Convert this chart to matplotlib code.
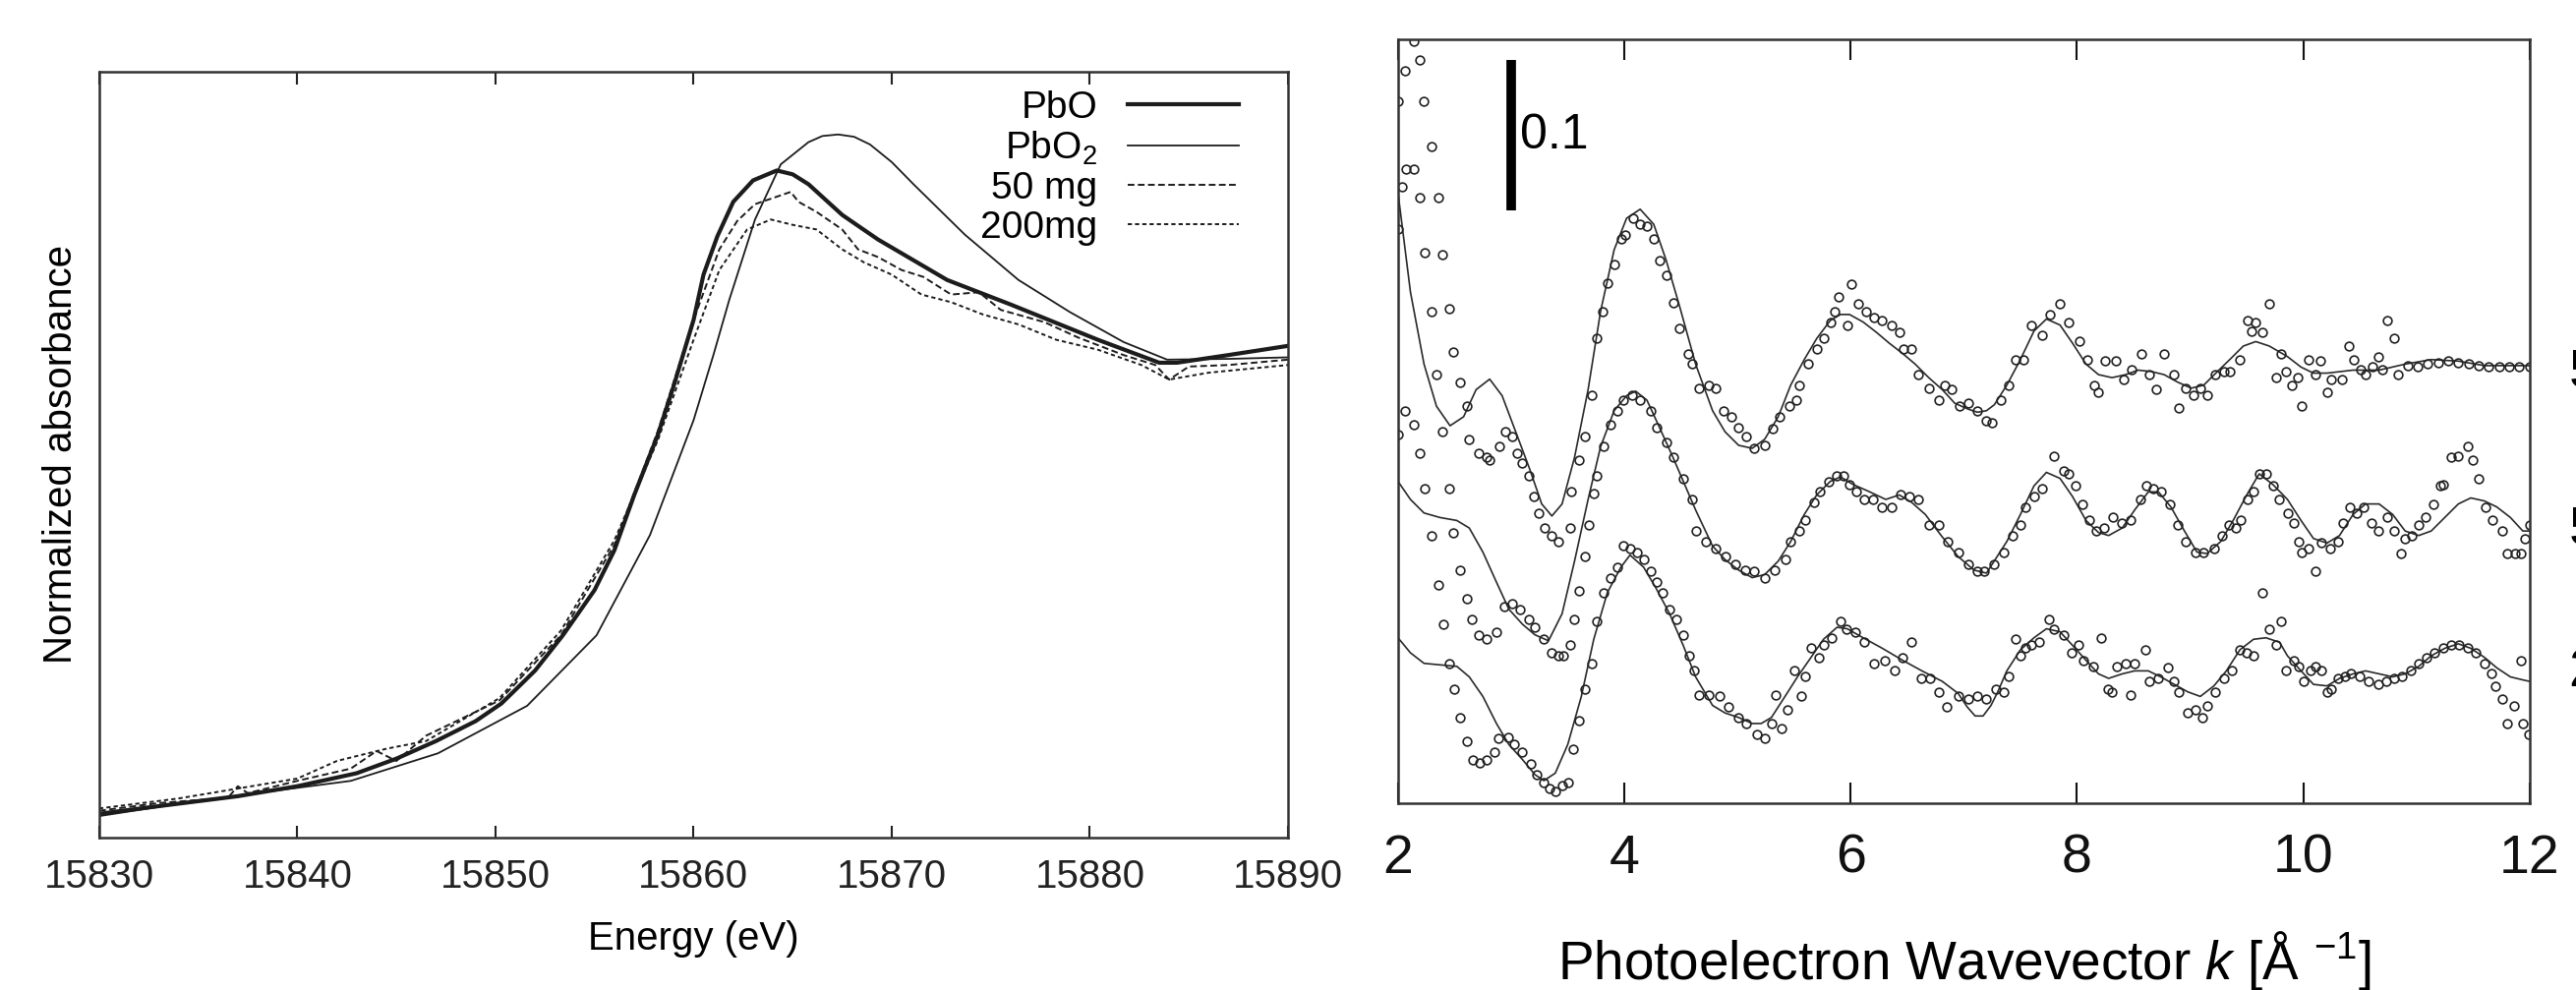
import numpy as np
import matplotlib.pyplot as plt
from matplotlib import font_manager

plt.rcParams['font.family'] = ['Liberation Sans', 'DejaVu Sans']
plt.rcParams['mathtext.fontset'] = 'custom'
plt.rcParams['mathtext.rm'] = 'Liberation Sans'
plt.rcParams['mathtext.it'] = 'Liberation Sans:italic'

names = {f.name for f in font_manager.fontManager.ttflist}
narrow = 'Liberation Sans Narrow' if 'Liberation Sans Narrow' in names else 'Liberation Sans'

# ---- left panel: XANES (energy eV, normalized absorbance) ----
pbo = [(15830, .031), (15833, .041), (15837, .054), (15840, .067), (15843, .084), (15845, .103),
       (15847, .126), (15849, .152), (15850.3, .175), (15852, .218), (15853.4, .264), (15855, .323),
       (15856, .375), (15857, .447), (15858.2, .526), (15859, .590), (15860, .676), (15860.5, .735),
       (15861.2, .785), (15862, .830), (15863, .858), (15864.2, .871), (15865, .866),
       (15865.8, .853), (15867.5, .813), (15869.3, .781), (15872.8, .728), (15876, .696),
       (15880.4, .650), (15883.5, .620), (15884.4, .620), (15887, .630), (15890, .642)]
pbo2 = [(15830, .028), (15835, .048), (15842.7, .074), (15847.1, .110), (15851.6, .172),
        (15855.1, .264), (15857.8, .395), (15860, .545), (15861, .630), (15861.8, .702),
        (15863.1, .807), (15864.4, .879), (15865.8, .908), (15866.5, .916), (15867.3, .918),
        (15868.1, .915), (15868.9, .905), (15870, .882), (15871.1, .853), (15873.7, .787),
        (15876.4, .728), (15879, .686), (15881.7, .647), (15883.9, .624), (15887, .625),
        (15890, .627)]
mg50 = [(15830, .035), (15833, .045), (15836.5, .052), (15837, .067), (15837.5, .058), (15840, .074),
        (15842.7, .090), (15844, .113), (15845, .100), (15846.5, .133), (15850.2, .179),
        (15853.3, .264), (15856, .382), (15858.2, .531), (15860, .676), (15861.3, .768),
        (15862.2, .805), (15863.1, .827), (15864.9, .843), (15865.3, .830), (15866.2, .817),
        (15867.5, .794), (15868.3, .768), (15869.3, .758), (15870.5, .741), (15871.6, .732),
        (15873, .709), (15874.4, .712), (15875.5, .689), (15877.7, .673), (15879.4, .653),
        (15881.7, .630), (15883.3, .617), (15884, .598), (15885, .615), (15887, .617), (15890, .624)]
mg200 = [(15830, .038), (15834, .051), (15837, .064), (15840, .077), (15842, .100), (15844.5, .116),
         (15846.5, .126), (15850.2, .182), (15853.3, .270), (15856, .388), (15858.2, .519),
         (15860, .650), (15861.3, .741), (15862.7, .794), (15863.9, .807), (15865, .800),
         (15866.2, .794), (15867.5, .768), (15868.6, .751), (15870, .735), (15871.5, .709),
         (15873, .699), (15874.6, .683), (15876.4, .670), (15878.3, .650), (15880.4, .637),
         (15882.6, .617), (15884, .598), (15886, .607), (15890, .617)]
xanes_labels = ['PbO', 'PbO$_2$', '50 mg', '200mg']
energy_ticks = [15830, 15840, 15850, 15860, 15870, 15880, 15890]

# ---- right panel: EXAFS (k, shifted chi) ----
top_fit = [(2.00, .406), (2.11, .340), (2.23, .292), (2.34, .264), (2.46, .251), (2.58, .257),
           (2.69, .275), (2.81, .282), (2.92, .271), (3.04, .247), (3.16, .223), (3.27, .199),
           (3.36, .191), (3.45, .199), (3.56, .230), (3.68, .275), (3.79, .327), (3.91, .368),
           (4.02, .389), (4.14, .395), (4.26, .385), (4.37, .361), (4.49, .330), (4.63, .292),
           (4.78, .261), (4.89, .247), (5.01, .238), (5.13, .236), (5.24, .242), (5.36, .257),
           (5.47, .278), (5.59, .295), (5.70, .309), (5.82, .321), (5.91, .325), (5.99, .325),
           (6.11, .320), (6.23, .313), (6.34, .306), (6.46, .299), (6.57, .292), (6.69, .283),
           (6.81, .275), (6.92, .266), (7.04, .262), (7.12, .260), (7.20, .261), (7.27, .265),
           (7.38, .278), (7.50, .295), (7.62, .314), (7.73, .322), (7.85, .318), (7.96, .306),
           (8.08, .292), (8.19, .285), (8.31, .283), (8.43, .285), (8.54, .288), (8.66, .287),
           (8.77, .285), (8.89, .280), (9.01, .276), (9.12, .278), (9.24, .287), (9.35, .295),
           (9.47, .304), (9.58, .307), (9.70, .304), (9.86, .297), (9.98, .290), (10.09, .286),
           (10.21, .286), (10.44, .288), (10.67, .288), (10.90, .292), (11.13, .295), (11.37, .294),
           (11.60, .291), (11.83, .291), (12.00, .291)]
top_pts = [(2.14, .507), (2.06, .487), (2.19, .494), (2.00, .467), (2.23, .467), (2.30, .437),
           (2.07, .422), (2.14, .422), (2.04, .410), (2.19, .403), (2.36, .403), (2.00, .382),
           (2.24, .366), (2.39, .365), (2.30, .327), (2.45, .329), (2.49, .300), (2.34, .285),
           (2.55, .280), (2.61, .264), (2.39, .247), (2.63, .242), (2.71, .233), (2.78, .230),
           (2.81, .228), (2.90, .237), (2.95, .247), (3.01, .244), (3.05, .233), (3.10, .226),
           (3.16, .218), (3.20, .204), (3.24, .193), (3.30, .183), (3.36, .178), (3.42, .174),
           (3.52, .183), (3.53, .207), (3.60, .228), (3.65, .244), (3.71, .271), (3.76, .309),
           (3.81, .327), (3.85, .346), (3.91, .358), (3.97, .375), (4.01, .378), (4.08, .389),
           (4.14, .385), (4.20, .384), (4.26, .375), (4.31, .361), (4.37, .351), (4.43, .333),
           (4.49, .316), (4.56, .299), (4.60, .292), (4.66, .276), (4.75, .278), (4.81, .276),
           (4.88, .261), (4.95, .257), (5.01, .250), (5.08, .244), (5.15, .236), (5.24, .238),
           (5.31, .249), (5.37, .257), (5.46, .264), (5.52, .268), (5.55, .278), (5.62, .292),
           (5.70, .302), (5.76, .309), (5.82, .320), (5.86, .327), (5.89, .337), (5.97, .318),
           (6.01, .345), (6.07, .332), (6.14, .327), (6.21, .323), (6.28, .321), (6.36, .318),
           (6.43, .313), (6.47, .302), (6.54, .302), (6.60, .285), (6.69, .276), (6.78, .268),
           (6.83, .278), (6.89, .275), (6.96, .264), (7.04, .266), (7.12, .261), (7.20, .254),
           (7.25, .253), (7.33, .268), (7.40, .278), (7.46, .295), (7.53, .295), (7.60, .318),
           (7.69, .311), (7.76, .325), (7.85, .332), (7.93, .320), (8.02, .307), (8.09, .295),
           (8.15, .278), (8.19, .273), (8.25, .294), (8.34, .294), (8.41, .282), (8.48, .288),
           (8.57, .299), (8.64, .285), (8.70, .275), (8.77, .299), (8.86, .285), (8.90, .263),
           (8.96, .276), (9.03, .271), (9.09, .276), (9.15, .271), (9.22, .285), (9.30, .287),
           (9.35, .287), (9.44, .295), (9.51, .321), (9.54, .314), (9.58, .320), (9.64, .313),
           (9.70, .332), (9.76, .283), (9.80, .299), (9.85, .287), (9.90, .278), (9.95, .283),
           (9.99, .264), (10.05, .295), (10.11, .285), (10.15, .294), (10.21, .273), (10.25, .282),
           (10.34, .282), (10.40, .304), (10.45, .295), (10.51, .288), (10.55, .285), (10.61, .290),
           (10.66, .297), (10.70, .288), (10.74, .321), (10.80, .309), (10.84, .285), (10.92, .291),
           (11.01, .290), (11.10, .292), (11.19, .293), (11.28, .294), (11.37, .293), (11.46, .292),
           (11.55, .291), (11.64, .290), (11.73, .290), (11.82, .290), (11.91, .290), (12.00, .290)]

mid_fit = [(2.00, .214), (2.11, .202), (2.23, .193), (2.37, .190), (2.52, .188), (2.63, .183),
           (2.75, .167), (2.87, .147), (2.98, .129), (3.10, .119), (3.21, .112), (3.33, .108),
           (3.45, .126), (3.56, .161), (3.68, .202), (3.79, .237), (3.91, .261), (4.02, .271),
           (4.10, .274), (4.20, .268), (4.31, .250), (4.43, .230), (4.55, .209), (4.63, .195),
           (4.78, .171), (4.89, .162), (5.01, .155), (5.13, .150), (5.24, .152), (5.36, .161),
           (5.47, .174), (5.59, .192), (5.70, .205), (5.82, .214), (5.91, .217), (6.02, .212),
           (6.17, .207), (6.31, .202), (6.43, .205), (6.54, .200), (6.66, .192), (6.80, .178),
           (6.95, .164), (7.09, .155), (7.20, .153), (7.38, .174), (7.50, .192), (7.62, .211),
           (7.73, .220), (7.85, .216), (7.96, .204), (8.08, .188), (8.19, .180), (8.28, .178),
           (8.40, .183), (8.51, .195), (8.63, .207), (8.72, .207), (8.83, .197), (8.95, .181),
           (9.06, .167), (9.15, .166), (9.27, .174), (9.38, .188), (9.50, .205), (9.61, .219),
           (9.73, .212), (9.86, .202), (9.98, .188), (10.09, .176), (10.21, .173), (10.32, .178),
           (10.44, .192), (10.55, .199), (10.67, .199), (10.79, .192), (10.90, .181), (11.02, .178),
           (11.13, .181), (11.25, .190), (11.37, .199), (11.48, .203), (11.60, .201), (11.71, .197),
           (11.83, .190), (11.94, .181), (12.00, .181)]
mid_pts = [(2.00, .245), (2.06, .261), (2.14, .252), (2.19, .233), (2.24, .209), (2.45, .209),
           (2.30, .178), (2.49, .180), (2.55, .155), (2.36, .145), (2.61, .136), (2.40, .119),
           (2.65, .122), (2.71, .112), (2.78, .109), (2.87, .114), (2.94, .131), (3.01, .133),
           (3.08, .129), (3.16, .122), (3.21, .117), (3.29, .109), (3.36, .100), (3.42, .098),
           (3.46, .098), (3.52, .105), (3.56, .122), (3.60, .141), (3.65, .164), (3.69, .185),
           (3.73, .206), (3.76, .218), (3.82, .237), (3.88, .252), (3.94, .261), (3.99, .268),
           (4.07, .271), (4.14, .268), (4.23, .261), (4.29, .250), (4.37, .240), (4.43, .230),
           (4.52, .216), (4.60, .202), (4.63, .181), (4.72, .174), (4.81, .169), (4.89, .164),
           (4.98, .159), (5.07, .155), (5.15, .154), (5.24, .150), (5.33, .155), (5.42, .162),
           (5.47, .174), (5.55, .181), (5.60, .188), (5.68, .200), (5.73, .207), (5.81, .214),
           (5.88, .218), (5.94, .218), (5.99, .212), (6.05, .207), (6.12, .202), (6.20, .202),
           (6.28, .197), (6.36, .197), (6.44, .205), (6.52, .204), (6.60, .202), (6.69, .185),
           (6.78, .185), (6.86, .174), (6.95, .167), (7.04, .159), (7.12, .154), (7.18, .154),
           (7.27, .159), (7.35, .167), (7.43, .178), (7.50, .185), (7.54, .197), (7.62, .204),
           (7.69, .209), (7.80, .231), (7.88, .221), (7.93, .219), (7.99, .211), (8.05, .199),
           (8.11, .188), (8.17, .181), (8.24, .183), (8.32, .190), (8.40, .186), (8.47, .188),
           (8.56, .202), (8.61, .211), (8.67, .209), (8.74, .207), (8.82, .199), (8.89, .185),
           (8.96, .174), (9.05, .167), (9.12, .167), (9.21, .169), (9.28, .178), (9.34, .185),
           (9.40, .183), (9.45, .188), (9.51, .202), (9.56, .207), (9.61, .219), (9.67, .219),
           (9.73, .211), (9.79, .202), (9.86, .193), (9.92, .186), (9.96, .174), (9.99, .167),
           (10.05, .169), (10.11, .154), (10.16, .173), (10.24, .169), (10.31, .174), (10.35, .186),
           (10.41, .197), (10.47, .193), (10.53, .197), (10.60, .186), (10.66, .181), (10.74, .190),
           (10.80, .181), (10.86, .166), (10.90, .176), (10.96, .178), (11.02, .185), (11.08, .190),
           (11.15, .199), (11.21, .211), (11.24, .212), (11.31, .230), (11.37, .231), (11.45, .237),
           (11.50, .228), (11.55, .216), (11.61, .197), (11.67, .188), (11.76, .181), (11.80, .166),
           (11.87, .166), (11.92, .166), (11.96, .176), (12.00, .185)]

bot_fit = [(2.00, .110), (2.11, .100), (2.23, .093), (2.37, .092), (2.52, .091), (2.63, .084),
           (2.75, .071), (2.87, .053), (2.98, .039), (3.10, .029), (3.21, .019), (3.29, .015),
           (3.39, .020), (3.50, .039), (3.62, .071), (3.73, .109), (3.85, .140), (3.97, .157),
           (4.05, .165), (4.17, .157), (4.28, .143), (4.40, .126), (4.52, .105), (4.63, .084),
           (4.78, .065), (4.89, .060), (5.01, .057), (5.13, .053), (5.21, .053), (5.30, .057),
           (5.42, .071), (5.53, .084), (5.65, .097), (5.76, .109), (5.88, .117), (5.97, .116),
           (6.11, .110), (6.28, .103), (6.46, .095), (6.63, .088), (6.81, .081), (6.95, .073),
           (7.03, .064), (7.10, .058), (7.17, .058), (7.24, .065), (7.30, .074), (7.38, .088),
           (7.50, .102), (7.62, .110), (7.73, .116), (7.85, .114), (7.96, .105), (8.08, .095),
           (8.19, .086), (8.28, .083), (8.40, .086), (8.51, .088), (8.63, .088), (8.74, .084),
           (8.86, .079), (8.98, .074), (9.09, .071), (9.21, .078), (9.32, .088), (9.44, .102),
           (9.56, .109), (9.67, .110), (9.79, .107), (9.86, .098), (9.98, .088), (10.09, .079),
           (10.21, .078), (10.32, .083), (10.44, .086), (10.55, .088), (10.67, .086), (10.79, .084),
           (10.90, .086), (11.02, .091), (11.13, .098), (11.25, .103), (11.37, .106), (11.48, .103),
           (11.60, .097), (11.71, .090), (11.83, .084), (11.94, .082), (12.00, .081)]
bot_pts = [(2.45, .093), (2.50, .076), (2.55, .057), (2.61, .041), (2.66, .029), (2.72, .027),
           (2.78, .029), (2.85, .034), (2.89, .043), (2.97, .044), (3.03, .039), (3.10, .034),
           (3.17, .026), (3.23, .019), (3.29, .014), (3.34, .010), (3.39, .008), (3.45, .012),
           (3.50, .014), (3.55, .036), (3.60, .055), (3.65, .076), (3.71, .093), (3.76, .121),
           (3.82, .140), (3.88, .150), (3.94, .157), (3.99, .171), (4.05, .169), (4.11, .167),
           (4.17, .162), (4.23, .154), (4.29, .147), (4.34, .140), (4.40, .129), (4.46, .122),
           (4.52, .112), (4.57, .098), (4.62, .088), (4.66, .072), (4.75, .072), (4.84, .071),
           (4.92, .064), (5.01, .057), (5.08, .053), (5.17, .046), (5.24, .043), (5.30, .053),
           (5.39, .050), (5.34, .072), (5.44, .062), (5.50, .088), (5.56, .071), (5.60, .084),
           (5.65, .103), (5.72, .097), (5.76, .105), (5.83, .110), (5.91, .121), (5.96, .116),
           (6.04, .114), (6.12, .107), (6.21, .093), (6.30, .095), (6.39, .088), (6.46, .097),
           (6.54, .107), (6.62, .083), (6.70, .083), (6.78, .074), (6.85, .064), (6.95, .071),
           (7.04, .069), (7.12, .071), (7.20, .069), (7.28, .076), (7.35, .074), (7.40, .084),
           (7.46, .109), (7.50, .098), (7.54, .103), (7.60, .105), (7.67, .107), (7.75, .122),
           (7.80, .116), (7.88, .112), (7.95, .100), (8.01, .105), (8.06, .095), (8.14, .091),
           (8.21, .110), (8.27, .076), (8.31, .074), (8.35, .091), (8.43, .093), (8.47, .072),
           (8.51, .093), (8.60, .102), (8.64, .081), (8.72, .083), (8.80, .090), (8.86, .081),
           (8.90, .074), (8.98, .060), (9.05, .062), (9.11, .057), (9.15, .065), (9.22, .074),
           (9.30, .083), (9.37, .088), (9.44, .102), (9.50, .100), (9.56, .098), (9.64, .140),
           (9.70, .116), (9.76, .105), (9.80, .121), (9.85, .088), (9.92, .095), (9.96, .091),
           (10.00, .081), (10.06, .088), (10.11, .091), (10.16, .088), (10.21, .074), (10.25, .076),
           (10.31, .083), (10.37, .084), (10.42, .086), (10.50, .084), (10.58, .081), (10.66, .079),
           (10.73, .081), (10.80, .083), (10.87, .084), (10.95, .088), (11.02, .093), (11.09, .097),
           (11.16, .100), (11.24, .103), (11.31, .105), (11.38, .105), (11.45, .103), (11.52, .100),
           (11.60, .093), (11.66, .086), (11.70, .078), (11.76, .069), (11.80, .053), (11.86, .065),
           (11.92, .095), (11.94, .053), (11.99, .046)]

k_ticks = [2, 4, 6, 8, 10, 12]
scale_k, scale_lo, scale_len = 3.0, 0.394, 0.1
trace_names = ['50 mg', '50 mg', '200 mg']

ink = '#1c1c1c'
fig = plt.figure(figsize=(26.2, 10.07), dpi=100)
ax1 = fig.add_axes([0.0385, 0.154, 0.4615, 0.7736])
ax2 = fig.add_axes([0.5427, 0.1887, 0.4393, 0.7716])

# left panel
styles = [(3.0, '-'), (1.3, '-'), (1.4, (0, (3.5, 1.8))), (1.4, (0, (2.2, 1.6)))]
for xy, lab, (lw, ls) in zip([pbo, pbo2, mg50, mg200], xanes_labels, styles):
    e, a = np.array(xy).T
    ax1.plot(e, a, color=ink, lw=lw, ls=ls, label=lab)
ax1.set_xlim(15830, 15890)
ax1.set_ylim(0, 1)
ax1.set_xticks(energy_ticks)
ax1.set_yticks([])
ax1.tick_params(axis='x', direction='in', top=True, length=9, width=1.5,
                labelsize=29, pad=15, colors='#222')
ax1.set_xlabel('Energy (eV)', fontsize=29)
ax1.xaxis.set_label_coords(0.5, -0.108)
ax1.set_ylabel('Normalized absorbance', fontsize=29, labelpad=14)
ax1.legend(loc='upper right', bbox_to_anchor=(0.9586, 0.976), markerfirst=False,
           frameon=False, fontsize=28, handlelength=2.9, handletextpad=0.8,
           labelspacing=0.1, borderpad=0, borderaxespad=0)

# right panel
for fit, pts in [(top_fit, top_pts), (mid_fit, mid_pts), (bot_fit, bot_pts)]:
    k, y = np.array(fit).T
    ax2.plot(k, y, '-', color='#2a2a2a', lw=1.2)
    k, y = np.array(pts).T
    ax2.plot(k, y, 'o', mfc='none', mec='#222', ms=6.3, mew=1.2)
ax2.plot([scale_k, scale_k], [scale_lo, scale_lo + scale_len], color='black', lw=7,
         solid_capstyle='butt')
ax2.text(scale_k + 0.08, scale_lo + scale_len / 2, '0.1', fontsize=36, va='center', ha='left')
ax2.set_xlim(2, 12)
ax2.set_ylim(0, 0.508)
tick_fs = 46 if narrow != 'Liberation Sans' else 40
ax2.set_xticks(k_ticks, [str(t) for t in k_ticks], fontfamily=narrow, fontsize=tick_fs)
ax2.set_yticks([])
ax2.tick_params(axis='x', direction='in', top=True, length=15, width=1.5, pad=22, colors='#111')
ax2.set_xlabel('Photoelectron Wavevector $k$ [Å $^{-1}$]', fontsize=39.5, va='center')
ax2.xaxis.set_label_coords(0.5, -0.206)

for ax in (ax1, ax2):
    for s in ax.spines.values():
        s.set_linewidth(1.8)
        s.set_color('#333')

# sample names, cut off by the right edge of the figure
for txt, yf in zip(trace_names, [0.623, 0.464, 0.321]):
    fig.text(0.9975, yf, txt, fontsize=40, va='center', ha='left')

fig.savefig('out.png', dpi=100)
